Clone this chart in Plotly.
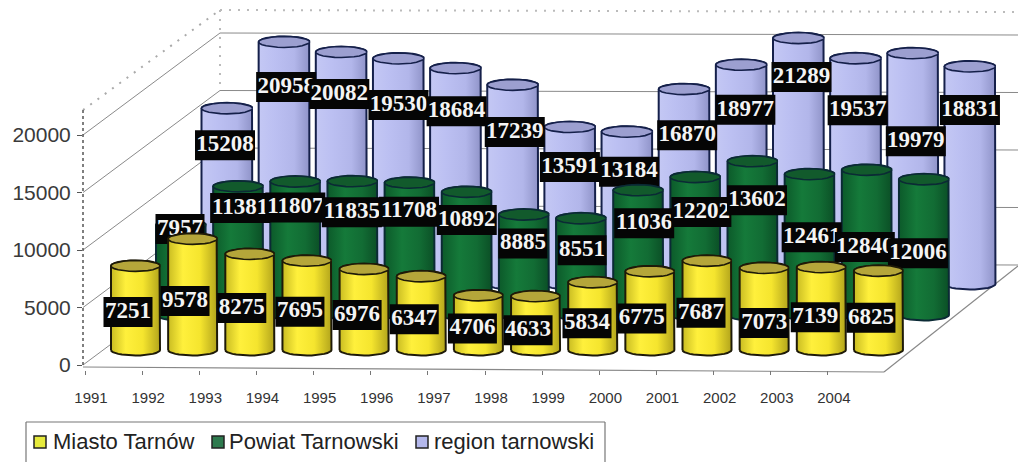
import numpy as np
import plotly.graph_objects as go

YEARS = ["1991","1992","1993","1994","1995","1996","1997","1998","1999","2000","2001","2002","2003","2004"]
MIASTO = [7251,9578,8275,7695,6976,6347,4706,4633,5834,6775,7687,7073,7139,6825]
POWIAT = [7957,11381,11807,11835,11708,10892,8885,8551,11036,12202,13602,12461,12840,12006]
REGION = [15208,20958,20082,19530,18684,17239,13591,13184,16870,18977,21289,19537,19979,18831]
SERIES_NAMES = ["Miasto Tarnów", "Powiat Tarnowski", "region tarnowski"]
Y_TICKS = [0, 5000, 10000, 15000, 20000]

W, H = 1018, 462
STEP = 57.15

# label offsets (px) relative to the top centre of each cylinder
REGION_DX = [-2,2,-2,0,1,2,0,2,3,4,3,2,3,0]
REGION_DY = [37,45,42,46.6,43,47,40,40,46,45,39,52,88,43.5]
POWIAT_DX = [-1,2,0,-0.6,-0.6,0,-1,1,6,6,4.5,2,-2,-6]
POWIAT_DY = [4,21.6,26,31,29,28,29,32,33,35,39,63,77,74]
MIASTO_DX = [-7.5,-7.6,-8,-7,-7,-7,-6,-7.5,-5.7,-8,-6,0,-6,-7.5]
MIASTO_DY = [46,62,54,51,46,43,33,34,41,47,52,55,50,47]

ROWS = [
    dict(vals=REGION, dx=REGION_DX, dy=REGION_DY, cx0=227.0, base=284.0, scale=0.01155, hw=25.5, ry=5.5,
         grad=[[0,"#c4c8f4"],[0.3,"#bcc0f2"],[0.7,"#b2b6ea"],[1,"#8f93c8"]], cap="#9c9fd0", edge="#15204a"),
    dict(vals=POWIAT, dx=POWIAT_DX, dy=POWIAT_DY, cx0=181.0, base=315.0, scale=0.0113, hw=25.0, ry=5.5,
         grad=[[0,"#0c5a2a"],[0.35,"#157a3a"],[0.7,"#126c34"],[1,"#0b4f26"]], cap="#125a2c", edge="#0b2a35"),
    dict(vals=MIASTO, dx=MIASTO_DX, dy=MIASTO_DY, cx0=135.5, base=350.0, scale=0.0116, hw=24.5, ry=5.5,
         grad=[[0,"#c9bc22"],[0.3,"#fff03c"],[0.65,"#f5e52e"],[1,"#b3a51c"]], cap="#b5a63a", edge="#1e1a08"),
]

fig = go.Figure()

def px_x(p):
    return p / W

def px_y(p):
    return 1 - p / H

# base axes carrying the tick labels
fig.add_trace(go.Scatter(x=[None], y=[None], xaxis="x", yaxis="y", showlegend=False))
fig.update_layout(
    xaxis=dict(domain=[px_x(83), px_x(884)], range=[(83-85)/STEP, (884-85)/STEP],
               tickmode="array", tickvals=list(range(14)), ticktext=YEARS,
               ticks="outside", ticklen=4, tickcolor="#777", showline=False, showgrid=False,
               zeroline=False, ticklabelshift=6, ticklabelstandoff=10,
               tickfont=dict(family="Liberation Sans", size=15, color="#333"), anchor="y"),
    yaxis=dict(domain=[px_y(370), px_y(110)], range=[-5/0.0115, 255/0.0115],
               tickmode="array", tickvals=Y_TICKS, ticks="outside", ticklen=5, tickcolor="#555",
               showline=False, showgrid=False, zeroline=False, ticklabelstandoff=2,
               tickformat="d", tickfont=dict(family="Liberation Sans", size=21, color="#3a3a3a"), anchor="x"),
)

theta_low = np.linspace(np.pi, 2*np.pi, 17)
theta_up = np.linspace(0, np.pi, 17)
theta_full = np.linspace(0, 2*np.pi, 25)

for r, row in enumerate(ROWS):
    k = str(r + 2)
    xa, ya = "x" + k, "y" + k
    s = row["scale"]
    fig.update_layout({
        "xaxis" + k: dict(domain=[px_x(row["cx0"] - STEP), px_x(row["cx0"] + 13.6*STEP)], range=[-1, 13.6],
                          visible=False, anchor=ya, fixedrange=True),
        "yaxis" + k: dict(domain=[0, 1], range=[-(H - row["base"])/s, row["base"]/s],
                          visible=False, anchor=xa, fixedrange=True),
    })
    hw = row["hw"] / STEP
    ry = row["ry"] / s
    for i, v in enumerate(row["vals"]):
        # cylinder body
        xs = np.concatenate([i + hw*np.cos(theta_low), i + hw*np.cos(theta_up)])
        ys = np.concatenate([ry*np.sin(theta_low), v + ry*np.sin(theta_up)])
        fig.add_trace(go.Scatter(
            x=np.append(xs, xs[0]), y=np.append(ys, ys[0]), xaxis=xa, yaxis=ya, mode="lines",
            fill="toself", fillgradient=dict(type="horizontal", colorscale=row["grad"]),
            line=dict(color=row["edge"], width=2), hoverinfo="skip", showlegend=False))
        # top cap
        fig.add_trace(go.Scatter(
            x=i + hw*np.cos(theta_full), y=v + ry*np.sin(theta_full), xaxis=xa, yaxis=ya, mode="lines",
            fill="toself", fillcolor=row["cap"],
            line=dict(color=row["edge"], width=1.6), hoverinfo="skip", showlegend=False))
    # labels drawn after this row's cylinders, each hiding part of the previous one
    for i, v in enumerate(row["vals"]):
        txt = str(v)
        half_w = (30 if len(txt) == 5 else 24.5) / STEP
        half_h = 15 / s
        lx = i + row["dx"][i] / STEP
        ly = v - row["dy"][i] / s
        fig.add_trace(go.Scatter(
            x=[lx-half_w, lx+half_w, lx+half_w, lx-half_w, lx-half_w],
            y=[ly-half_h, ly-half_h, ly+half_h, ly+half_h, ly-half_h],
            xaxis=xa, yaxis=ya, mode="lines", fill="toself", fillcolor="#050505",
            line=dict(width=0, color="#050505"), hoverinfo="skip", showlegend=False))
        fig.add_trace(go.Scatter(
            x=[lx], y=[ly], xaxis=xa, yaxis=ya, mode="text", text=[txt], textposition="middle center",
            textfont=dict(family="Liberation Serif", size=23, color="#f4f4f4", weight="bold"),
            hoverinfo="skip", showlegend=False, cliponaxis=False))

# walls and floor (pixel frame of the pseudo-3D box)
shapes = []
def seg(x0, y0, x1, y1, color="#8a8a8a", width=1, dash="solid"):
    shapes.append(dict(type="line", xref="paper", yref="paper", x0=px_x(x0), y0=px_y(y0), x1=px_x(x1), y1=px_y(y1),
                       line=dict(color=color, width=width, dash=dash), layer="below"))
for t in Y_TICKS:
    y = 365 - t*0.0115
    seg(83, y, 220, y - 102)
    seg(220, y - 102, W, y - 100)
seg(83, 110, 220, 10, color="#aaa", width=2, dash="2px,7px")
seg(220, 10, W, 12, color="#bbb", width=2, dash="2px,7px")
seg(220, 10, 220, 88, color="#bbb", width=2, dash="2px,7px")
seg(83, 110, 83, 367, color="#555", width=1.5, dash="dot")
seg(83, 367, 884, 372, color="#888", width=1.2)
seg(884, 372, W, 266, color="#888", width=1.2)

# legend frame and swatches
LEG_COL = ["#e6ea3c", "#2e7a4e", "#b4b8ec"]
LEG_SW = [34, 212, 416]
LEG_TX = [51, 227, 432]
seg(26, 422, 605, 422, color="#777", width=1.2)
seg(26, 422, 26, 462, color="#777", width=1.2)
seg(605, 422, 605, 462, color="#777", width=1.2)
annotations = []
for c, sx, tx, name in zip(LEG_COL, LEG_SW, LEG_TX, SERIES_NAMES):
    shapes.append(dict(type="rect", xref="paper", yref="paper", x0=px_x(sx), x1=px_x(sx+12),
                       y0=px_y(448), y1=px_y(436), fillcolor=c, line=dict(color="#222", width=1.5)))
    annotations.append(dict(xref="paper", yref="paper", x=px_x(tx), y=px_y(441), xanchor="left", yanchor="middle",
                            text=name, showarrow=False,
                            font=dict(family="Liberation Sans", size=22, color="#222")))

fig.update_layout(width=W, height=H, margin=dict(l=0, r=0, t=0, b=0, pad=0, autoexpand=False), autosize=False,
                  paper_bgcolor="white", plot_bgcolor="rgba(0,0,0,0)", showlegend=False,
                  shapes=shapes, annotations=annotations, hovermode=False)
fig.write_html("out.html", config=dict(displayModeBar=False),
               post_script="document.body.style.margin='0';document.body.style.overflow='hidden';")
